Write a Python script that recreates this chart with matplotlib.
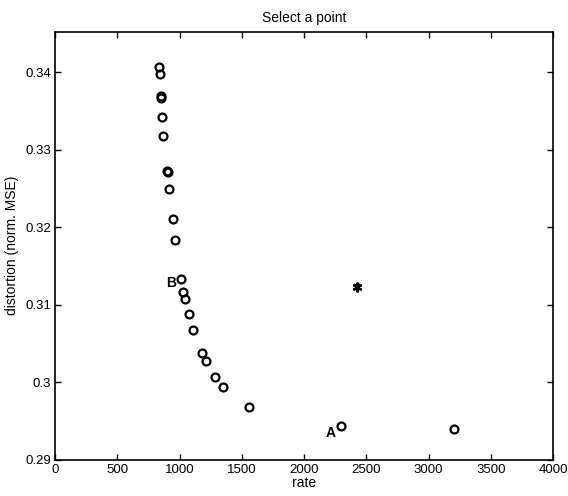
import matplotlib
matplotlib.use('Agg')
import matplotlib.pyplot as plt

matplotlib.rcParams['font.family'] = ['Liberation Sans', 'DejaVu Sans']

# rate / distortion pairs of the candidate operating points
rate = [838, 843, 849, 852, 859, 870, 900, 903, 918, 945, 964,
        1012, 1031, 1044, 1076, 1111, 1178, 1213, 1288, 1352, 1561,
        2294, 3205]
distortion = [0.3406, 0.3397, 0.3369, 0.3367, 0.3342, 0.3318, 0.3273, 0.3271,
              0.3249, 0.3210, 0.3184, 0.3133, 0.3117, 0.3107, 0.3088, 0.3068,
              0.3038, 0.3027, 0.3007, 0.2994, 0.2968, 0.2943, 0.2940]

# selected point
sel_rate = 2428
sel_dist = 0.3123

# labelled points
lbl_text = ['A', 'B']
lbl_rate = [2209, 929]
lbl_dist = [0.2935, 0.3128]

xticks = [0, 500, 1000, 1500, 2000, 2500, 3000, 3500, 4000]
yticks = [0.29, 0.30, 0.31, 0.32, 0.33, 0.34]
ytick_labels = ['0.29', '0.3', '0.31', '0.32', '0.33', '0.34']

fig = plt.figure(figsize=(5.68, 4.96), dpi=100)
ax = fig.add_axes([0.097, 0.073, 0.877, 0.863])

ax.plot(rate, distortion, 'o', markersize=5.7, markerfacecolor='none',
        markeredgecolor='black', markeredgewidth=1.6, linestyle='none')
# asterisk marker for the chosen point
ax.plot(sel_rate, sel_dist, marker=(6, 2, 0), markersize=7, color='black',
        markeredgewidth=1.5, linestyle='none')
ax.plot(sel_rate, sel_dist, marker='x', markersize=5, color='black',
        markeredgewidth=1.5, linestyle='none')

for t, xr, yd in zip(lbl_text, lbl_rate, lbl_dist):
    ax.text(xr, yd, t, fontsize=10, fontweight='bold', ha='center', va='center')

ax.set_xlim(0, 4000)
ax.set_ylim(0.29, 0.3452)
ax.set_xticks(xticks)
ax.set_yticks(yticks)
ax.set_yticklabels(ytick_labels)
ax.tick_params(direction='in', top=True, right=True, length=4, width=1,
               labelsize=9.5, pad=3)
for s in ax.spines.values():
    s.set_linewidth(1.2)

ax.set_title('Select a point', fontsize=10, pad=7)
ax.set_xlabel('rate', fontsize=10, labelpad=0)
ax.set_ylabel('distortion (norm. MSE)', fontsize=10, labelpad=4)

fig.savefig('out.png', dpi=100)
